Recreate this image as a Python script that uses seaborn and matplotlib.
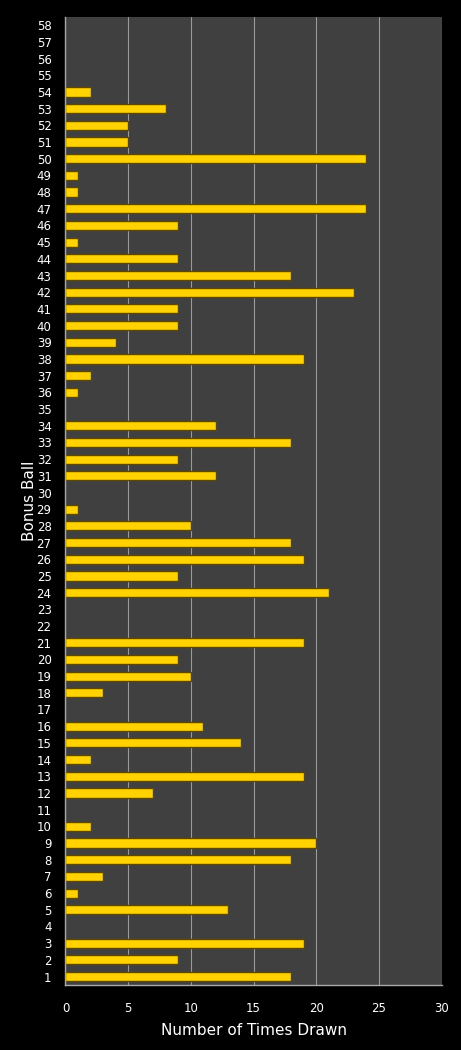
import numpy as np
import pandas as pd
import matplotlib
matplotlib.use("Agg")
import matplotlib.pyplot as plt
import seaborn as sns

balls = list(range(1, 59))
times_drawn = [18, 9, 19, 0, 13, 1, 3, 18, 20, 2,
               0, 7, 19, 2, 14, 11, 0, 3, 10, 9,
               19, 0, 0, 21, 9, 19, 18, 10, 1, 0,
               12, 9, 18, 12, 0, 1, 2, 19, 4, 9,
               9, 23, 18, 9, 1, 9, 24, 1, 1, 24,
               5, 5, 8, 2, 0, 0, 0, 0]
x_ticks = [0, 5, 10, 15, 20, 25, 30]

df = pd.DataFrame({"ball": [str(b) for b in balls], "times": times_drawn})
order = [str(b) for b in reversed(balls)]

sns.set_style("dark")
plt.rcParams['font.family'] = ['DejaVu Sans']

fig = plt.figure(figsize=(4.61, 10.5), dpi=100, facecolor="black")
ax = fig.add_axes([0.142, 0.062, 0.816, 0.922])
ax.set_facecolor("#404040")

sns.barplot(data=df, x="times", y="ball", order=order, orient="h",
            color="#FFD200", edgecolor="#5e4800", linewidth=1.0,
            width=0.55, saturation=1, ax=ax)

ax.set_xlim(0, 30)
ax.set_xticks(x_ticks)
ax.xaxis.grid(True, color="#9a9a9a", linewidth=0.8)
ax.yaxis.grid(False)
ax.set_axisbelow(True)
for side in ["top", "right"]:
    ax.spines[side].set_visible(False)
for side in ["left", "bottom"]:
    ax.spines[side].set_color("#a8a8a8")
    ax.spines[side].set_linewidth(1)

ax.tick_params(axis="both", colors="white", labelsize=8.5, length=0)
ax.tick_params(axis="x", pad=12)
ax.tick_params(axis="y", pad=10)
ax.set_xlabel("Number of Times Drawn", color="white", fontsize=11, labelpad=6)
ax.set_ylabel("Bonus Ball", color="white", fontsize=11, labelpad=0)

fig.savefig("out.png", dpi=100, facecolor="black")
